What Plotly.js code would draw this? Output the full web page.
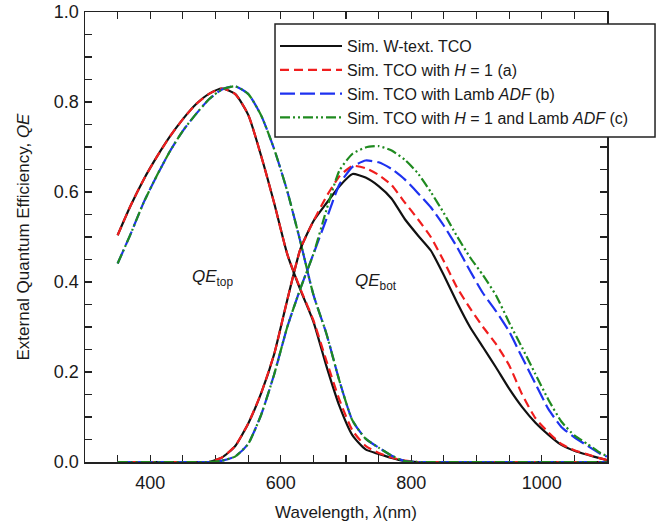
<!DOCTYPE html>
<html>
<head>
<meta charset="utf-8">
<script src="https://cdn.plot.ly/plotly-3.0.1.min.js"></script>
<style>html,body{margin:0;padding:0;background:#fff;}#chart{width:661px;height:530px;}</style>
</head>
<body>
<div id="chart"></div>
<script>
// Wavelength grid (nm)
var wavelength = [350,370,390,410,430,450,470,490,510,530,550,570,590,610,630,650,670,690,710,730,750,770,790,810,830,850,870,890,910,930,950,970,990,1010,1030,1050,1070,1090,1100];

// QE_top curves
var topBlack = [0.504,0.570,0.628,0.678,0.723,0.762,0.795,0.818,0.830,0.818,0.772,0.680,0.575,0.462,0.383,0.312,0.213,0.124,0.059,0.028,0.018,0.009,0.002,0,0,0,0,0,0,0,0,0,0,0,0,0,0,0,0];
var topRed   = [0.504,0.570,0.628,0.678,0.723,0.762,0.795,0.818,0.830,0.818,0.772,0.680,0.575,0.462,0.385,0.315,0.225,0.138,0.070,0.036,0.020,0.010,0.003,0,0,0,0,0,0,0,0,0,0,0,0,0,0,0,0];
var topBlue  = [0.441,0.507,0.577,0.636,0.690,0.736,0.773,0.806,0.828,0.835,0.818,0.770,0.695,0.602,0.490,0.372,0.285,0.180,0.092,0.052,0.032,0.014,0.002,0,0,0,0,0,0,0,0,0,0,0,0,0,0,0,0];
var topGreen = [0.441,0.507,0.577,0.636,0.690,0.736,0.773,0.806,0.828,0.835,0.818,0.770,0.695,0.602,0.490,0.372,0.285,0.180,0.092,0.052,0.032,0.014,0.002,0,0,0,0,0,0,0,0,0,0,0,0,0,0,0,0];

// QE_bot curves
var botBlack = [0,0,0,0,0,0,0,0,0.010,0.035,0.085,0.153,0.240,0.360,0.473,0.535,0.575,0.613,0.640,0.632,0.613,0.585,0.540,0.504,0.470,0.415,0.355,0.300,0.255,0.210,0.163,0.122,0.088,0.061,0.038,0.025,0.016,0.008,0.004];
var botRed   = [0,0,0,0,0,0,0,0,0.010,0.035,0.085,0.153,0.240,0.360,0.473,0.535,0.590,0.635,0.658,0.653,0.638,0.615,0.577,0.540,0.500,0.446,0.388,0.342,0.300,0.262,0.215,0.150,0.098,0.066,0.040,0.026,0.017,0.008,0.004];
var botBlue  = [0,0,0,0,0,0,0,0,0.003,0.012,0.040,0.105,0.195,0.300,0.385,0.462,0.540,0.617,0.656,0.670,0.666,0.651,0.628,0.598,0.566,0.525,0.478,0.425,0.375,0.335,0.290,0.232,0.175,0.118,0.078,0.055,0.036,0.018,0.012];
var botGreen = [0,0,0,0,0,0,0,0,0.003,0.012,0.040,0.105,0.195,0.300,0.385,0.462,0.560,0.648,0.685,0.699,0.702,0.692,0.672,0.642,0.600,0.553,0.502,0.455,0.415,0.370,0.310,0.254,0.196,0.139,0.090,0.059,0.040,0.020,0.013];

var seriesNames = [
  'Sim. W-text. TCO',
  'Sim. TCO with <i>H</i> = 1 (a)',
  'Sim. TCO with Lamb <i>ADF</i> (b)',
  'Sim. TCO with <i>H</i> = 1 and Lamb <i>ADF</i> (c)'
];
var annotationTexts = ['<i>QE</i><sub>top</sub>', '<i>QE</i><sub>bot</sub>'];

var styles = [
  {color:'#111111', width:2.2, dash:'solid'},
  {color:'#f01e1e', width:2.2, dash:'9px,5px'},
  {color:'#1e32f0', width:2.2, dash:'15px,5px'},
  {color:'#1f8a1f', width:2.2, dash:'10px,3px,2px,3px,2px,3px'}
];
var tops = [topBlack, topRed, topBlue, topGreen];
var bots = [botBlack, botRed, botBlue, botGreen];

var traces = [];
for (var i = 0; i < 4; i++) {
  traces.push({
    x: wavelength, y: tops[i], type:'scatter', mode:'lines',
    name: seriesNames[i], legendgroup:'g'+i, showlegend:true,
    line: {color:styles[i].color, width:styles[i].width, dash:styles[i].dash, shape:'spline', smoothing:0.6}
  });
}
for (var j = 0; j < 4; j++) {
  traces.push({
    x: wavelength, y: bots[j], type:'scatter', mode:'lines',
    name: seriesNames[j], legendgroup:'g'+j, showlegend:false,
    line: {color:styles[j].color, width:styles[j].width, dash:styles[j].dash, shape:'spline', smoothing:0.5}
  });
}

var fontFam = 'Liberation Sans, Arial, Helvetica, sans-serif';
var axisCommon = {
  showgrid:false, zeroline:false, showline:true, linecolor:'#222', linewidth:1.5,
  mirror:'allticks', ticks:'inside', ticklen:7, tickwidth:1.2, tickcolor:'#222',
  tickfont:{family:fontFam, size:18, color:'#1a1a1a'}, layer:'below traces'
};

var layout = {
  width:661, height:530,
  margin:{l:85, r:54, t:12, b:68},
  paper_bgcolor:'#fff', plot_bgcolor:'#fff',
  font:{family:fontFam, color:'#1a1a1a'},
  xaxis: Object.assign({}, axisCommon, {
    range:[300,1100], tick0:0, dtick:200, ticklabelstandoff:4,
    minor:{dtick:50, ticks:'inside', ticklen:7, tickwidth:1.2, tickcolor:'#222'},
    title:{text:'Wavelength, <i>λ</i>(nm)', font:{family:fontFam, size:17, color:'#1a1a1a'}, standoff:14}
  }),
  yaxis: Object.assign({}, axisCommon, {
    range:[0,1], tick0:0, dtick:0.2, tickformat:'.1f', ticklabelstandoff:1,
    minor:{dtick:0.05, ticks:'inside', ticklen:7, tickwidth:1.2, tickcolor:'#222'},
    title:{text:'External Quantum Efficiency, <i>QE</i>', font:{family:fontFam, size:17, color:'#1a1a1a'}, standoff:20}
  }),
  legend:{
    x:0.364, y:0.962, xanchor:'left', yanchor:'top',
    bgcolor:'rgba(0,0,0,0)', borderwidth:0,
    font:{family:fontFam, size:16, color:'#1a1a1a'},
    itemwidth:62, tracegroupgap:0
  },
  shapes:[
    {type:'rect', xref:'paper', yref:'paper', x0:0.364, x1:1.092, y0:0.7222, y1:0.9733,
     fillcolor:'#fff', line:{color:'#222', width:1.5}, layer:'above'}
  ],
  annotations:[
    {x:496, y:0.41, xref:'x', yref:'y', text:annotationTexts[0], showarrow:false, font:{family:fontFam, size:17, color:'#1a1a1a'}},
    {x:746, y:0.40, xref:'x', yref:'y', text:annotationTexts[1], showarrow:false, font:{family:fontFam, size:17, color:'#1a1a1a'}}
  ]
};

Plotly.newPlot('chart', traces, layout, {displayModeBar:false, staticPlot:true});
</script>
</body>
</html>
